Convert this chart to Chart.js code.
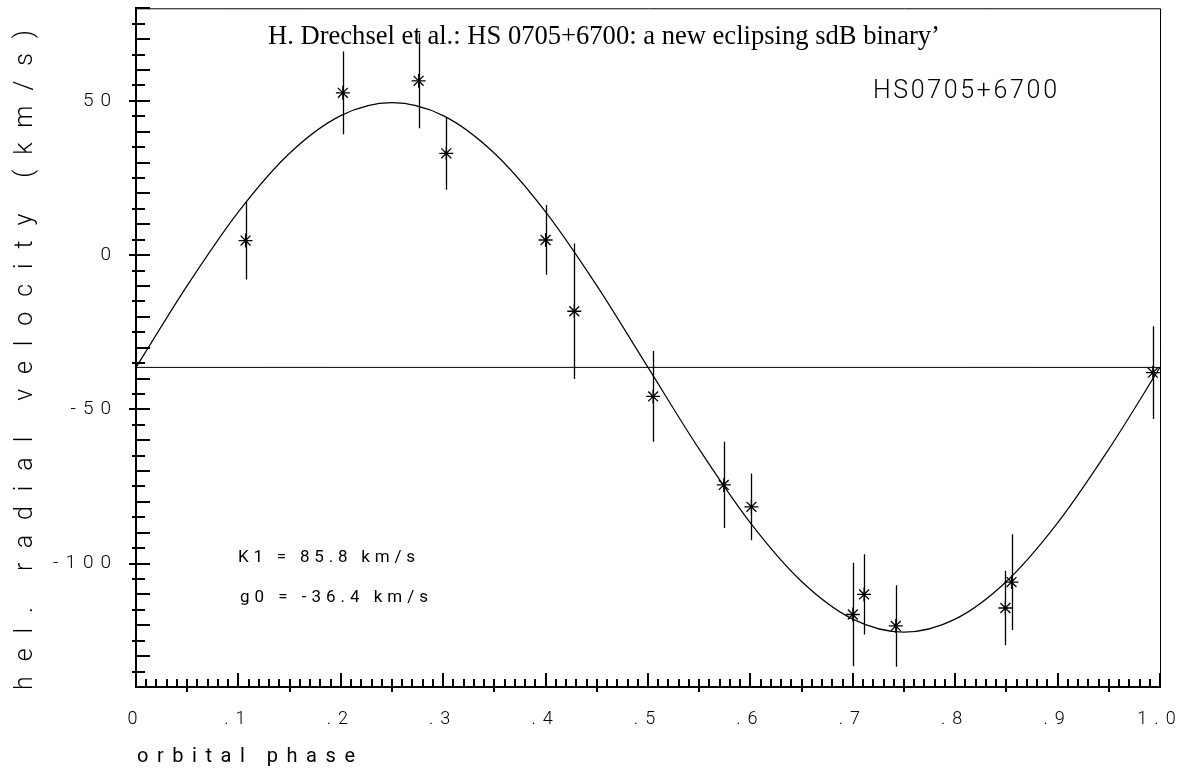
<!DOCTYPE html>
<html>
<head>
<meta charset="utf-8">
<title>HS 0705+6700 radial velocity curve</title>
<script src="https://cdn.jsdelivr.net/npm/chart.js@4.4.0/dist/chart.umd.min.js"></script>
<style>
  html, body { margin: 0; padding: 0; background: #fff; }
  #wrap { width: 1188px; height: 770px; position: relative; }
</style>
</head>
<body>
<div id="wrap"><canvas id="rv"></canvas></div>
<script>
const phase    = [0.107, 0.202, 0.276, 0.303, 0.400, 0.428, 0.505, 0.574, 0.601, 0.700, 0.711, 0.742, 0.849, 0.855, 0.993];
const velocity = [4.7, 52.6, 56.5, 33.0, 4.9, -18.2, -45.8, -74.5, -81.6, -116.5, -110.0, -120.2, -114.4, -106.0, -38.1];
const velErr   = [12.6, 13.4, 15.4, 11.8, 11.3, 22.0, 14.7, 14.0, 10.8, 16.8, 13.0, 13.2, 12.1, 15.5, 15.0];

// ---- fitted orbit, read every 0.05 in phase ----
const curvePhase = [0, 0.05, 0.10, 0.15, 0.20, 0.25, 0.30, 0.35, 0.40, 0.45, 0.50,
                    0.55, 0.60, 0.65, 0.70, 0.75, 0.80, 0.85, 0.90, 0.95, 1.0];
const curveVel   = [-36.4, -9.9, 14.0, 33.0, 45.2, 49.4, 45.2, 33.0, 14.0, -9.9, -36.4,
                    -62.9, -86.8, -105.8, -118.0, -122.2, -118.0, -105.8, -86.8, -62.9, -36.4];

const gammaVel = -36.4;
const gammaPhase = [0, 1];

// ---- axes ----
const xTicks = [0, 0.1, 0.2, 0.3, 0.4, 0.5, 0.6, 0.7, 0.8, 0.9, 1.0];
const xTickLabels = ['0', '.1', '.2', '.3', '.4', '.5', '.6', '.7', '.8', '.9', '1.0'];
const yTicks = [-100, -50, 0, 50];
const yTickLabels = ['-100', '-50', '0', '50'];

const titleText = 'H. Drechsel et al.: HS 0705+6700: a new eclipsing sdB binary\u2019';
const starName = 'HS0705+6700';
const fitNotes = ['K1 = 85.8 km/s', 'g0 = -36.4 km/s'];
const xTitle = 'orbital phase';
const yTitle = 'hel. radial velocity (km/s)';

const plotFont = 'Roboto';
const tickSpacing = 7;   // the plotter spaces out the tick digits

// text stretched with letter spacing to a given width
function drawSpaced(ctx, text, x, y, font, width) {
  ctx.font = font;
  ctx.letterSpacing = '0px';
  const w = ctx.measureText(text).width;
  const ls = text.length > 1 ? (width - w) / (text.length - 1) : 0;
  ctx.letterSpacing = ls + 'px';
  ctx.fillText(text, x, y);
  ctx.letterSpacing = '0px';
}

function fitSize(ctx, text, family, width) {
  ctx.font = '100px ' + family;
  return 100 * width / ctx.measureText(text).width;
}

const decor = {
  id: 'decor',
  beforeDraw(chart) {
    chart.ctx.letterSpacing = tickSpacing + 'px';
  },
  beforeDatasetsDraw(chart) {
    chart.ctx.letterSpacing = '0px';
  },
  afterDatasetsDraw(chart) {
    const ctx = chart.ctx;
    const xs = chart.scales.x, ys = chart.scales.y;
    ctx.save();
    ctx.strokeStyle = '#000';
    ctx.lineWidth = 1.3;
    ctx.beginPath();
    phase.forEach((p, i) => {
      const px = Math.round(xs.getPixelForValue(p)) + 0.5;
      ctx.moveTo(px, ys.getPixelForValue(velocity[i] + velErr[i]));
      ctx.lineTo(px, ys.getPixelForValue(velocity[i] - velErr[i]));
    });
    ctx.stroke();
    ctx.restore();
  },
  afterDraw(chart) {
    const ctx = chart.ctx;
    const a = chart.chartArea;
    const xs = chart.scales.x, ys = chart.scales.y;
    ctx.save();
    ctx.strokeStyle = '#000';

    // frame top / right
    ctx.lineWidth = 1;
    ctx.beginPath();
    ctx.moveTo(a.left, a.top + 0.5);
    ctx.lineTo(a.right + 0.5, a.top + 0.5);
    ctx.lineTo(a.right + 0.5, a.bottom);
    ctx.stroke();

    // tick marks
    ctx.lineWidth = 2;
    ctx.beginPath();
    for (let i = 0; i <= 100; i++) {
      const px = Math.round(xs.getPixelForValue(i / 100));
      if (i % 10 === 0) { ctx.moveTo(px, a.bottom); ctx.lineTo(px, a.bottom - 14); }
      else if (i % 5 === 0) { ctx.moveTo(px, a.bottom + 5); ctx.lineTo(px, a.bottom - 8); }
      else { ctx.moveTo(px, a.bottom); ctx.lineTo(px, a.bottom - 8); }
    }
    for (let v = -140; v <= 80; v += 5) {
      const py = Math.round(ys.getPixelForValue(v));
      if (v % 50 === 0) { ctx.moveTo(a.left - 7, py); ctx.lineTo(a.left + 14, py); }
      else if (v % 10 === 0) { ctx.moveTo(a.left, py); ctx.lineTo(a.left + 14, py); }
      else { ctx.moveTo(a.left - 4, py); ctx.lineTo(a.left + 9, py); }
    }
    ctx.stroke();

    // texts
    ctx.fillStyle = '#000';
    ctx.textAlign = 'left';
    ctx.textBaseline = 'alphabetic';
    const serif = '"Liberation Serif", "DejaVu Serif", serif';
    const ts = fitSize(ctx, titleText, serif, 672);
    ctx.font = ts + 'px ' + serif;
    ctx.fillText(titleText, 268, 44);

    drawSpaced(ctx, starName, 873, 98, '300 25px ' + plotFont, 184);
    drawSpaced(ctx, fitNotes[0], 238, 562, '17px ' + plotFont, 177);
    drawSpaced(ctx, fitNotes[1], 240, 602, '17px ' + plotFont, 188);
    drawSpaced(ctx, xTitle, 137, 762, '20px ' + plotFont, 218);

    ctx.translate(32, 690);
    ctx.rotate(-Math.PI / 2);
    drawSpaced(ctx, yTitle, 0, 0, '300 25px ' + plotFont, 660);
    ctx.restore();
  }
};

new Chart(document.getElementById('rv'), {
  type: 'line',
  data: {
    datasets: [
      {
        label: 'orbit fit',
        data: curvePhase.map((p, i) => ({ x: p, y: curveVel[i] })),
        borderColor: '#000',
        borderWidth: 1.2,
        pointRadius: 0,
        cubicInterpolationMode: 'monotone',
        fill: false
      },
      {
        label: 'gamma',
        data: gammaPhase.map(p => ({ x: p, y: gammaVel })),
        borderColor: '#000',
        borderWidth: 1,
        pointRadius: 0,
        fill: false
      },
      {
        label: 'RV',
        data: phase.map((p, i) => ({ x: p, y: velocity[i] })),
        showLine: false,
        pointStyle: 'star',
        pointRadius: 7,
        pointBorderWidth: 1.3,
        borderColor: '#000',
        backgroundColor: '#000'
      }
    ]
  },
  options: {
    responsive: true,
    maintainAspectRatio: false,
    animation: false,
    events: [],
    layout: { padding: { top: 5, right: 28, left: 0, bottom: 0 } },
    plugins: {
      legend: { display: false },
      tooltip: { enabled: false }
    },
    scales: {
      x: {
        type: 'linear',
        min: 0,
        max: 1,
        afterBuildTicks: s => { s.ticks = xTicks.map(v => ({ value: v })); },
        afterFit: s => { s.height = 83; s.paddingLeft = 0; s.paddingRight = 0; },
        grid: { display: false, drawTicks: false },
        border: { display: true, color: '#000', width: 2 },
        ticks: {
          callback: (v, i) => xTickLabels[i],
          color: '#000',
          font: { family: plotFont, size: 18, weight: '300' },
          padding: 22,
          maxRotation: 0,
          autoSkip: false
        }
      },
      y: {
        type: 'linear',
        min: -140,
        max: 80,
        afterBuildTicks: s => { s.ticks = yTicks.map(v => ({ value: v })); },
        afterFit: s => { s.width = 136; s.paddingTop = 0; s.paddingBottom = 0; },
        grid: { display: false, drawTicks: false },
        border: { display: true, color: '#000', width: 2 },
        ticks: {
          callback: (v, i) => yTickLabels[i],
          color: '#000',
          font: { family: plotFont, size: 19, weight: '300' },
          padding: 18
        }
      }
    }
  },
  plugins: [decor]
});
</script>
</body>
</html>
